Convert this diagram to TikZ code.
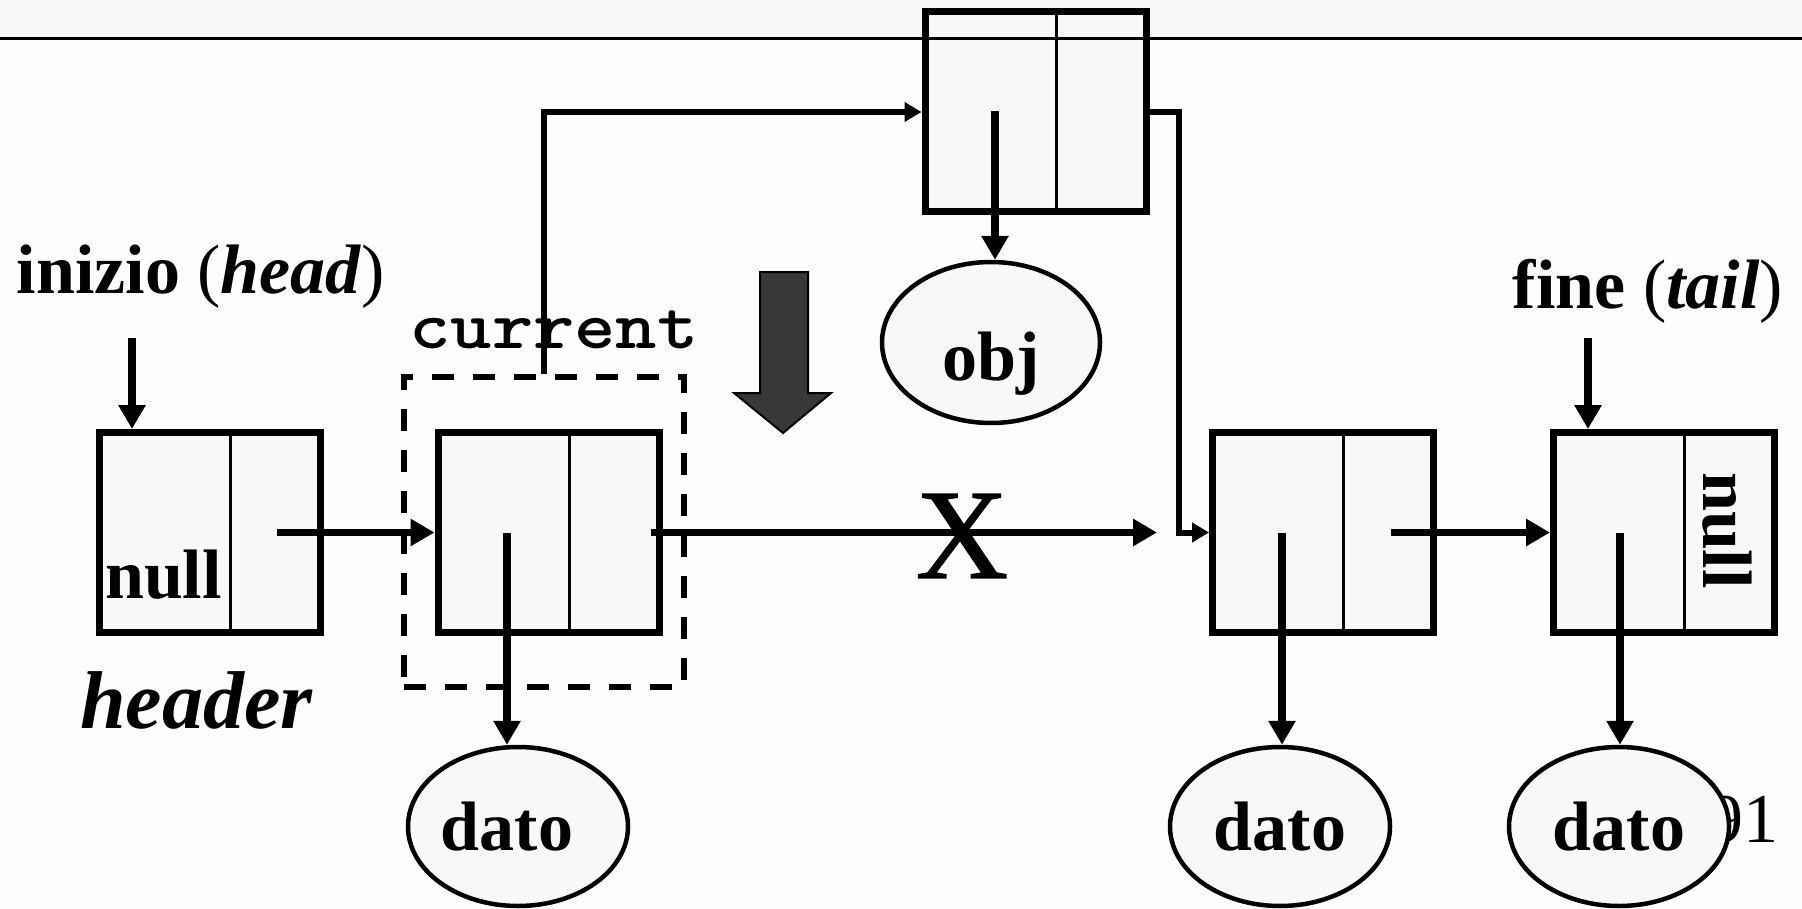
\documentclass[tikz,border=0pt]{standalone}
\usepackage{fontspec}
\setmainfont{Liberation Serif}
\newfontfamily\curfont[FakeStretch=1.157]{lmmonolt10-bold.otf}
\usetikzlibrary{arrows.meta,shapes.geometric,calc}
\definecolor{boxfill}{RGB}{248,248,248}
\definecolor{bgc}{RGB}{253,253,253}
\definecolor{bandc}{RGB}{247,247,247}
\definecolor{blockc}{RGB}{56,56,56}
\tikzset{
 cell/.style={draw, fill=boxfill, line width=3.5pt, minimum width=110.5pt, minimum height=100pt, inner sep=0pt},
 divider/.style={line width=1.5pt},
 ptr/.style={line width=3.75pt, -{Triangle[length=12pt,width=13pt]}},
 conn/.style={line width=3pt, -{Triangle[length=8.5pt,width=9.5pt]}},
 ell/.style={ellipse, draw, fill=boxfill, line width=2.25pt, minimum width=110pt, minimum height=79.5pt, inner sep=0pt, font=\bfseries\fontsize{35}{40}\selectfont, text height=23.5pt, text depth=0pt},
 lbl/.style={inner sep=0pt, font=\bfseries\fontsize{35}{40}\selectfont},
 curbox/.style={draw, dash pattern=on 11pt off 9.5pt, line width=2.75pt, minimum width=140pt, minimum height=155pt, inner sep=0pt},
}
\begin{document}
\begin{tikzpicture}[x=0.5pt,y=-0.5pt]
\useasboundingbox (0,0) rectangle (1802,909);
\fill[bgc] (0,0) rectangle (1802,909);
\fill[bandc] (0,0) rectangle (1802,39);

% list cells
\node[cell] (hd) at (209.5,532.5) {};
\node[cell] (cu) at (548.5,532.5) {};
\node[cell] (n3) at (1323,532.5) {};
\node[cell] (n4) at (1664,532.5) {};
\node[cell] (tp) at (1035.5,112) {};
\foreach \b in {hd,cu,n3,n4,tp}
  \draw[divider] ($(\b.north)+(20.5,3.5)$) -- ($(\b.south)+(20.5,-3.5)$);

% top rule
\draw[line width=1.5pt] (0,39) -- (1802,39);

% current frame
\node[curbox] (cur) at (544,532) {};

% page number (partly hidden)
\node[lbl, font=\fontsize{35}{40}\selectfont, anchor=base west] (pg) at (1708,842) {91};

% data ellipses
\node[ell] (d1) at (518,826.5) {\hspace*{-11pt}dato};
\node[ell] (d2) at (1280,826.5) {dato};
\node[ell] (d3) at (1619,826.5) {dato};
\node[ell, minimum width=109pt, minimum height=80.5pt, text height=37.5pt] (obj) at (991,342.5) {obj};

% labels
\node[lbl, anchor=base] (inizio) at (201,293) {inizio \textmd{(}\textit{head}\textmd{)}};
\node[lbl, anchor=base] (fine) at (1648,308) {fine \textmd{(}\textit{tail}\textmd{)}};
\node[lbl, anchor=base, font=\bfseries\itshape\fontsize{41}{46}\selectfont] (hdr) at (196.5,728) {header};
\node[lbl, anchor=base, font=\curfont\fontsize{34}{40}\selectfont] (curlbl) at (554,348) {current};
\node[lbl, anchor=base] (nullh) at (163.5,598) {null};
\node[lbl, rotate=-90] (nullt) at (1727,530.5) {null};
\node[inner sep=0pt, font=\fontsize{64}{70}\selectfont\addfontfeatures{FakeBold=1}] (cross) at (962,536) {X};

% pointer origins
\coordinate (hdnx) at (277,532.5);
\coordinate (cudt) at (507,532.5);
\coordinate (cunx) at (651,532.5);
\coordinate (n3dt) at (1282,532.5);
\coordinate (n3nx) at (1391,532.5);
\coordinate (n4dt) at (1620,532.5);
\coordinate (tpdt) at (995,111);
\coordinate (xend) at (1157,532.5);
\coordinate (ihead) at (132,338);
\coordinate (ftail) at (1588,338);
\coordinate (bend) at (1179,532.5);

% pointers
\draw[ptr] (ihead) -- (ihead |- hd.north);
\draw[ptr] (ftail) -- (ftail |- n4.north);
\draw[ptr] (hdnx) -- (cu.west);
\draw[ptr] (cunx) -- (xend);
\draw[ptr] (n3nx) -- (n4.west);
\draw[ptr] (cudt) -- (cudt |- d1.north);
\draw[ptr] (n3dt) -- (n3dt |- d2.north);
\draw[ptr] (n4dt) -- (n4dt |- d3.north);
\draw[ptr] (tpdt) -- (tpdt |- obj.north);

% insertion links
\draw[conn] (cur.north) |- (tp.west);
\draw[conn] (tp.east) -| (bend) -- (n3.west);

% block arrow
\draw[fill=blockc, line width=1pt] (760,272) -- (808,272) -- (808,393) -- (831,393) -- (783,433) -- (734,393) -- (760,393) -- cycle;
\end{tikzpicture}
\end{document}
